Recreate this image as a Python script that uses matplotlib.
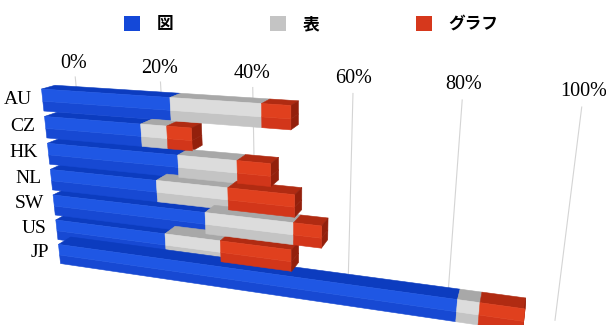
import matplotlib
matplotlib.use("Agg")
import matplotlib.pyplot as plt
import numpy as np
from matplotlib.patches import Patch

# ---------------- data ----------------
countries = ["AU", "CZ", "HK", "NL", "SW", "US", "JP"]
zu_vals = [28.0, 21.5, 29.0, 24.1, 34.2, 25.3, 82.7]      # 図
hyo_vals = [18.1, 5.5, 12.1, 15.0, 17.9, 11.9, 3.9]       # 表
graph_vals = [5.5, 5.1, 6.6, 13.2, 5.4, 14.5, 7.6]        # グラフ
series_names = ["図", "表", "グラフ"]
tick_vals = [0, 20, 40, 60, 80, 100]
tick_labels = ["0%", "20%", "40%", "60%", "80%", "100%"]

# ---------------- style ----------------
face_cols = {
    "図": dict(hi="#1f57e4", lo="#1749d3", top="#0c3cbf", right="#0a2f9c", legend="#1448d8"),
    "表": dict(hi="#dcdcdc", lo="#c4c4c4", top="#a8a8a8", right="#8c8c8c", legend="#c4c4c4"),
    "グラフ": dict(hi="#e0401e", lo="#d2361a", top="#b02b12", right="#93200c", legend="#d6381c"),
}
NONE = (0, 0, 0, 0)
serif = "Liberation Serif"
cjk = ["Noto Sans CJK JP", "DejaVu Sans"]

W, H = 606, 325
fig = plt.figure(figsize=(W / 100, H / 100), dpi=100)

S = 552.0
cx, cy = 294.0, H - 191.0
frac = 0.095 / 0.185
ax = fig.add_axes([(cx - frac * S) / W, (cy - frac * S) / H, S / W, S / H],
                  projection="3d", computed_zorder=False)
ax.set_proj_type("persp", focal_length=0.245)
ax.view_init(elev=18.3, azim=-72)
ax.set_xlim(0, 100.8)
ax.set_ylim(0, 2.0)
ax.set_zlim(-0.32, 6.68)
ax.set_box_aspect((18.35, 2.0, 7.0))
ax.set_axis_off()

bar_depth = 0.8
bar_h = 0.8
lo_frac = 0.45
wall_y = 2.1
z_top, z_bot = 6.5, -0.9

# gridlines on back wall
for t in tick_vals:
    ax.plot([t, t], [wall_y, wall_y], [z_bot, z_top], color="#d4d4d4", lw=0.8,
            zorder=1, clip_on=False)
for t, lab in zip(tick_vals, tick_labels):
    ax.text(t, wall_y, z_top + 0.5, lab, ha="center", va="center",
            fontsize=14.5, family=serif, zorder=5)

# bars (each stacked segment drawn as a lower and an upper slab for a glossy look)
n = len(countries)
xs, ys, zs, dxs, dys, dzs, cols = [], [], [], [], [], [], []
for i, c in enumerate(countries):
    rz = n - 1 - i
    vals = [zu_vals[i], hyo_vals[i], graph_vals[i]]
    left = 0.0
    for j, (name, v) in enumerate(zip(series_names, vals)):
        fc = face_cols[name]
        last = (j == len(vals) - 1)
        rc = fc["right"] if last else NONE
        z0 = rz - bar_h / 2
        h_lo = bar_h * lo_frac
        # face order: bottom, top, front(-y), back(+y), left(-x), right(+x)
        xs += [left, left]; ys += [0.0, 0.0]; zs += [z0, z0 + h_lo]
        dxs += [v, v]; dys += [bar_depth, bar_depth]; dzs += [h_lo, bar_h - h_lo]
        cols += [NONE, NONE, fc["lo"], NONE, NONE, rc]
        cols += [NONE, fc["top"], fc["hi"], NONE, NONE, rc]
        left += v
    ax.text(-2.5, 0, rz, c, ha="right", va="center", fontsize=14,
            family=serif, zorder=5)

bars = ax.bar3d(xs, ys, zs, dxs, dys, dzs, color=cols, shade=False,
                edgecolor=cols, linewidth=0.4, zorder=2)
bars.set_clip_on(False)

# legend
handles = [Patch(facecolor=face_cols[nm]["legend"], edgecolor="none") for nm in series_names]
fig.legend(handles, series_names, loc="center", bbox_to_anchor=(311 / W, 1 - 24 / H),
           ncol=3, frameon=False, prop={"family": cjk, "size": 12, "weight": "bold"},
           handlelength=0.96, handleheight=0.96, handletextpad=1.0, columnspacing=5.8)

fig.savefig("out.png", dpi=100)
